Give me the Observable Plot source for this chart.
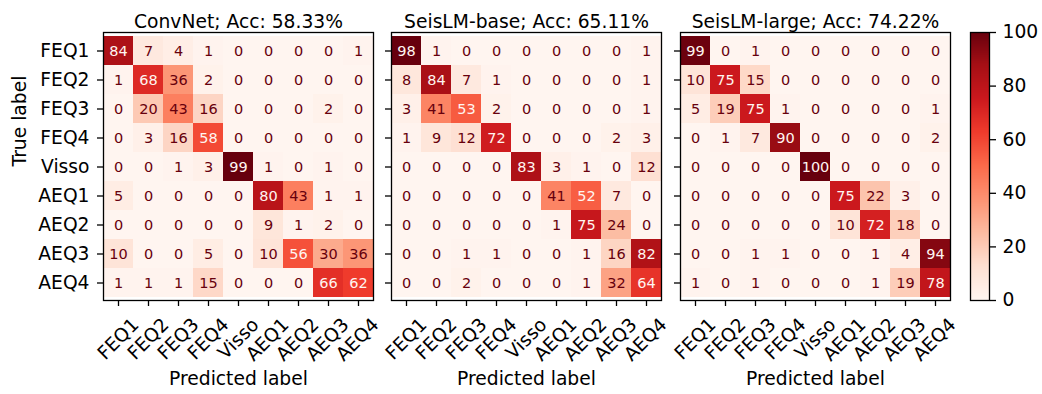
<!DOCTYPE html>
<html><head><meta charset="utf-8">
<script src="https://cdn.jsdelivr.net/npm/d3@7"></script>
<script src="https://cdn.jsdelivr.net/npm/@observablehq/plot@0.6"></script>
<style>
html,body{margin:0;padding:0;background:#fff;}
#fig{position:relative;width:1042px;height:394px;overflow:hidden;background:#fff;font-family:"DejaVu Sans",sans-serif;}
#fig svg{position:absolute;top:0;overflow:visible;background:transparent;}
</style></head><body><div id="fig"></div>
<script>
const labels = ["FEQ1","FEQ2","FEQ3","FEQ4","Visso","AEQ1","AEQ2","AEQ3","AEQ4"];
const titles = ["ConvNet; Acc: 58.33%","SeisLM-base; Acc: 65.11%","SeisLM-large; Acc: 74.22%"];
const convnet = [
  [84,7,4,1,0,0,0,0,1],
  [1,68,36,2,0,0,0,0,0],
  [0,20,43,16,0,0,0,2,0],
  [0,3,16,58,0,0,0,0,0],
  [0,0,1,3,99,1,0,1,0],
  [5,0,0,0,0,80,43,1,1],
  [0,0,0,0,0,9,1,2,0],
  [10,0,0,5,0,10,56,30,36],
  [1,1,1,15,0,0,0,66,62]
];
const seislmBase = [
  [98,1,0,0,0,0,0,0,1],
  [8,84,7,1,0,0,0,0,1],
  [3,41,53,2,0,0,0,0,1],
  [1,9,12,72,0,0,0,2,3],
  [0,0,0,0,83,3,1,0,12],
  [0,0,0,0,0,41,52,7,0],
  [0,0,0,0,0,1,75,24,0],
  [0,0,1,1,0,0,1,16,82],
  [0,0,2,0,0,0,1,32,64]
];
const seislmLarge = [
  [99,0,1,0,0,0,0,0,0],
  [10,75,15,0,0,0,0,0,0],
  [5,19,75,1,0,0,0,0,1],
  [0,1,7,90,0,0,0,0,2],
  [0,0,0,0,100,0,0,0,0],
  [0,0,0,0,0,75,22,3,0],
  [0,0,0,0,0,10,72,18,0],
  [0,0,1,1,0,0,1,4,94],
  [1,0,1,0,0,0,1,19,78]
];
const colorbarTicks = [0,20,40,60,80,100];

const FONT = "DejaVu Sans";
const FS = 18.7;
const reds = d3.schemeReds[9];
const fig = document.getElementById("fig");

function colorScale(max){
  return {type:"linear", domain: reds.map((_, i) => i * max / 8), range: reds, interpolate: "rgb"};
}

const panels = [
  {title: titles[0], m: convnet, left: 103, ml: 103, ylabels: true},
  {title: titles[1], m: seislmBase, left: 391, ml: 20, ylabels: false},
  {title: titles[2], m: seislmLarge, left: 680, ml: 20, ylabels: false}
];
const W = 270, MT = 32, MB = 94, H = 394, MR = 10;

panels.forEach(p => {
  const data = [];
  p.m.forEach((row, i) => row.forEach((v, j) => data.push({t: labels[i], p: labels[j], v})));
  const max = d3.max(data, d => d.v), min = d3.min(data, d => d.v);
  const thresh = (max + min) / 2;
  const marks = [
    Plot.cell(data, {x: "p", y: "t", fill: "v", shapeRendering: "crispEdges"}),
    Plot.text(data.filter(d => d.v < thresh), {x: "p", y: "t", text: d => String(d.v), fill: "#67000d", fontSize: 14.5}),
    Plot.text(data.filter(d => d.v >= thresh), {x: "p", y: "t", text: d => String(d.v), fill: "#fff5f0", fontSize: 14.5}),
    Plot.frame({stroke: "black", strokeWidth: 1.3}),
    Plot.axisX({tickSize: 6, tickFormat: () => "", label: null, strokeWidth: 1.3}),
    Plot.text(labels, {x: d => d, text: d => d, frameAnchor: "bottom", rotate: -45, textAnchor: "end", lineAnchor: "top", dx: 12, dy: 16, fontSize: FS, fill: "black"}),
    Plot.text([p.title], {frameAnchor: "top", dy: -18, fontSize: FS, fill: "black"}),
    Plot.text(["Predicted label"], {frameAnchor: "bottom", dy: 84, fontSize: FS, fill: "black"})
  ];
  if (p.ylabels) {
    marks.push(Plot.axisY({tickSize: 6, tickPadding: 8, label: null, fontSize: FS, strokeWidth: 1.3}));
    marks.push(Plot.text(["True label"], {frameAnchor: "left", dx: -83.5, rotate: -90, fontSize: FS, fill: "black"}));
  } else {
    marks.push(Plot.axisY({tickSize: 6, tickFormat: () => "", label: null, strokeWidth: 1.3}));
  }
  const svg = Plot.plot({
    width: p.ml + W + MR, height: H,
    marginTop: MT, marginBottom: MB, marginLeft: p.ml, marginRight: MR,
    x: {domain: labels, padding: 0},
    y: {domain: labels, padding: 0},
    color: colorScale(max),
    style: {fontFamily: FONT, fontSize: FS + "px", color: "black", background: "transparent", overflow: "visible"},
    marks
  });
  svg.style.left = (p.left - p.ml) + "px";
  fig.appendChild(svg);
});

// colorbar
const ramp = d3.range(0, 100, 0.25);
const cbML = 10, cbLeft = 970;
const cb = Plot.plot({
  width: cbML + 19 + 62, height: H,
  marginTop: MT, marginBottom: MB, marginLeft: cbML, marginRight: 62,
  y: {domain: [0, 100]},
  color: colorScale(100),
  style: {fontFamily: FONT, fontSize: FS + "px", color: "black", background: "transparent", overflow: "visible"},
  marks: [
    Plot.rect(ramp, {y1: d => d, y2: d => d + 0.25, fill: d => d, shapeRendering: "crispEdges"}),
    Plot.frame({stroke: "black", strokeWidth: 1.3}),
    Plot.axisY({anchor: "right", ticks: colorbarTicks, tickSize: 6, tickPadding: 7, label: null, fontSize: FS, strokeWidth: 1.3})
  ]
});
cb.style.left = (cbLeft - cbML) + "px";
fig.appendChild(cb);
</script></body></html>
